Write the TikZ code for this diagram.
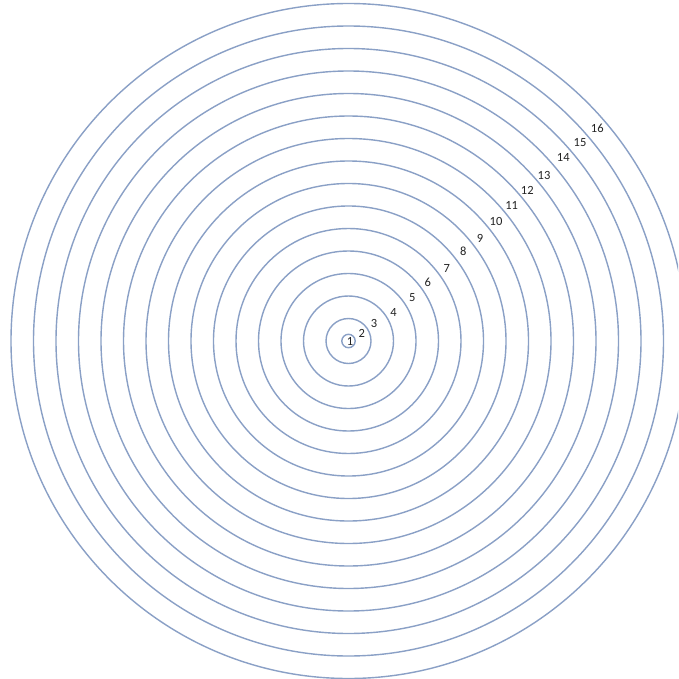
\documentclass[tikz,border=0pt]{standalone}
\usepackage{fontspec}
\setmainfont{Carlito}
\begin{document}
\begin{tikzpicture}[x=1pt,y=-1pt,
  ring/.style={draw={rgb,255:red,138;green,160;blue,198},line width=1.4pt},
  lbl/.style={inner sep=0pt,font=\fontsize{12.5}{14}\selectfont,text={rgb,255:red,35;green,35;blue,35}}]
\useasboundingbox (0,0) rectangle (678,679);
\clip (0,0) rectangle (678,679);
\fill[white] (0,0) rectangle (678,679);
\coordinate (o) at (348.5,341);
\draw[ring] (o) circle[radius=6.7pt];
\foreach \k in {2,...,16}{
  \draw[ring] (o) circle[radius={22.5*(\k-1)*1pt}];
}
\node[lbl] (l1) at (350,341) {1};
\node[lbl] (l2) at (361.7,333.3) {2};
\node[lbl] (l3) at (374,323.3) {3};
\node[lbl] (l4) at (393.6,312.5) {4};
\node[lbl] (l5) at (412.3,297.3) {5};
\node[lbl] (l6) at (427.7,282.7) {6};
\node[lbl] (l7) at (446.7,268.3) {7};
\node[lbl] (l8) at (463.3,251.7) {8};
\node[lbl] (l9) at (480,238.3) {9};
\node[lbl] (l10) at (496,221) {10};
\node[lbl] (l11) at (511.7,205) {11};
\node[lbl] (l12) at (527.3,190) {12};
\node[lbl] (l13) at (544,175.7) {13};
\node[lbl] (l14) at (563.3,157.3) {14};
\node[lbl] (l15) at (580,142.7) {15};
\node[lbl] (l16) at (597.3,128.3) {16};
\end{tikzpicture}
\end{document}
